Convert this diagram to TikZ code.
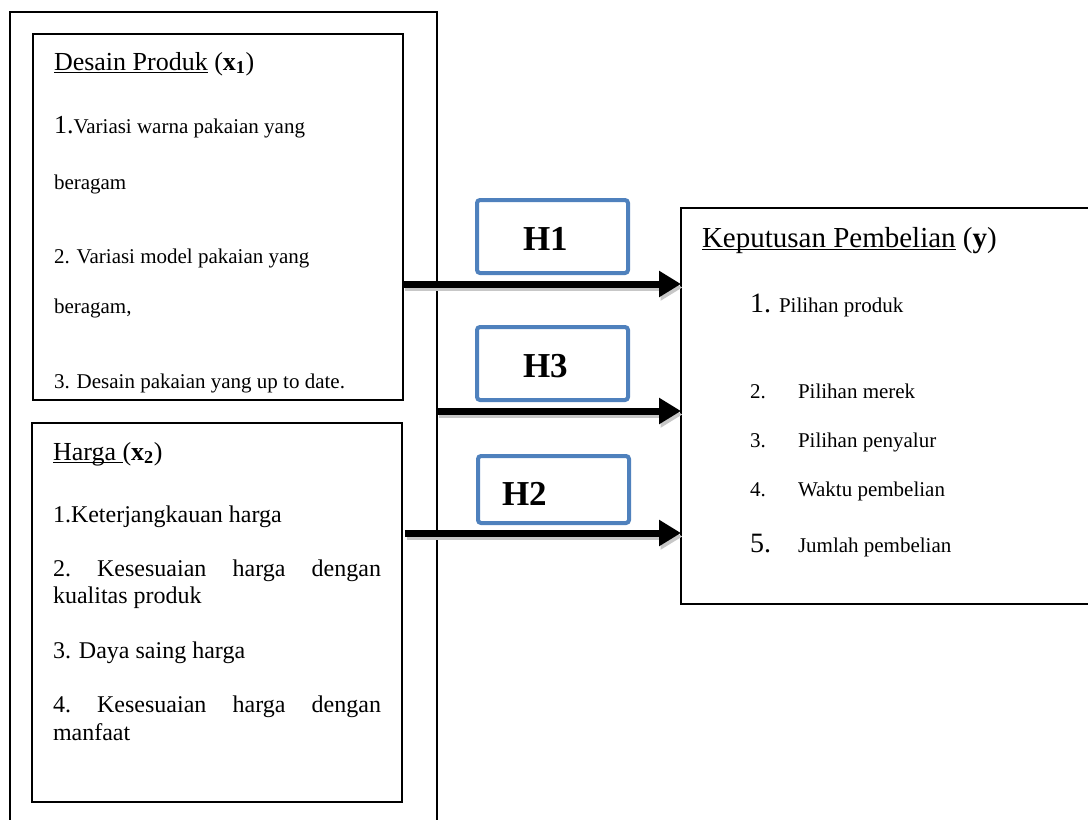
\documentclass[tikz,border=0pt]{standalone}
\usepackage{fontspec}
\setmainfont{Liberation Serif}
\usetikzlibrary{arrows.meta}
\definecolor{hblue}{HTML}{4F81BD}
\newcommand\myul[1]{\setbox0\hbox{#1}\rlap{\rule[-3pt]{\wd0}{1.5pt}}\box0\relax}
\begin{document}
\begin{tikzpicture}[x=1pt,y=-1pt,
  every node/.style={outer sep=0pt},
  outerbox/.style={draw, line width=1.3pt, anchor=north west, inner sep=0pt},
  innerbox/.style={draw, line width=2pt, anchor=north west, inner sep=0pt},
  ybox/.style={draw, line width=1.5pt, anchor=north west, inner sep=0pt},
  hbox/.style={draw=hblue, line width=4pt, rounded corners=3pt, anchor=north west, inner sep=0pt},
  arr/.style={line width=7pt, -{Triangle[length=22pt,width=25pt]}},
  shade/.style={line width=7pt, draw=black!22, -{Triangle[length=22pt,width=25pt]}},
  txt/.style={anchor=base west, inner sep=0pt},
  head/.style={txt, font=\fontsize{26}{30}\selectfont},
  yhead/.style={txt, font=\fontsize{29}{33}\selectfont},
  item/.style={txt, font=\fontsize{21}{25}\selectfont},
  itemb/.style={txt, font=\fontsize{24}{28}\selectfont},
  big/.style={txt, font=\fontsize{28}{32}\selectfont},
  hlabel/.style={txt, font=\fontsize{35}{40}\selectfont\bfseries},
]
\useasboundingbox (0,0) rectangle (1088,820);
\clip (0,0) rectangle (1088,820);

% boxes
\node[outerbox, minimum width=427pt, minimum height=840pt] (outer) at (10,12) {};
\node[innerbox, minimum width=370pt, minimum height=366pt] (x1) at (33,34) {};
\node[innerbox, minimum width=370pt, minimum height=379pt] (x2) at (32,423) {};
\node[ybox, minimum width=440pt, minimum height=396pt] (y) at (681,208) {};
\node[hbox, minimum width=151pt, minimum height=73pt] (h1) at (477,200) {};
\node[hbox, minimum width=151pt, minimum height=73pt] (h3) at (477,327) {};
\node[hbox, minimum width=151pt, minimum height=67pt] (h2) at (478,456) {};

% hypothesis labels
\node[hlabel] (h1t) at (523,250) {H1};
\node[hlabel] (h3t) at (523,377) {H3};
\node[hlabel] (h2t) at (502,505) {H2};

% coordinates for arrows
\coordinate (a1s) at (403,284);
\coordinate (a3s) at (437,411);
\coordinate (a2s) at (405,533);

% shadows
\draw[shade] ([shift={(1.5,3.5)}]a1s) -- ([shift={(1.5,3.5)}]y.west |- a1s);
\draw[shade] ([shift={(1.5,3.5)}]a3s) -- ([shift={(1.5,3.5)}]y.west |- a3s);
\draw[shade] ([shift={(1.5,3.5)}]a2s) -- ([shift={(1.5,3.5)}]y.west |- a2s);
% arrows
\draw[arr] (a1s) -- (y.west |- a1s);
\draw[arr] (a3s) -- (y.west |- a3s);
\draw[arr] (a2s) -- (y.west |- a2s);

% box x1 text
\begin{scope}
\clip (34,35) rectangle (402,392);
\node[head] (x1h) at (54,70) {\myul{Desain Produk} (\textbf{x\textsubscript{1}})};
\node[item] (x1a) at (54,133) {{\fontsize{26}{30}\selectfont 1.}Variasi warna pakaian yang};
\node[item] (x1b) at (54,189) {beragam};
\node[item] (x1c) at (54,263) {2. Variasi model pakaian yang};
\node[item] (x1d) at (54,313) {beragam,};
\node[item] (x1e) at (54,388) {3. Desain pakaian yang up to date.};
\end{scope}

% box x2 text
\node[head] (x2h) at (53,460) {\myul{Harga\ }(\textbf{x\textsubscript{2}})};
\node[itemb] (x2a) at (53,522) {1.Keterjangkauan harga};
\node[itemb] (x2b) at (53,576) {\hbox to 328pt{2.\hfill Kesesuaian\hfill harga\hfill dengan}};
\node[itemb] (x2c) at (53,603) {kualitas produk};
\node[itemb] (x2d) at (53,658) {3. Daya saing harga};
\node[itemb] (x2e) at (53,712) {\hbox to 328pt{4.\hfill Kesesuaian\hfill harga\hfill dengan}};
\node[itemb] (x2f) at (53,740) {manfaat};

% box y text
\node[yhead] (yh) at (702,247) {\myul{Keputusan Pembelian} (\textbf{y})};
\node[big] (y1n) at (750,312) {1.};
\node[item] (y1) at (779,312) {Pilihan produk};
\node[item] (y2n) at (750,398) {2.};
\node[item] (y2) at (798,398) {Pilihan merek};
\node[item] (y3n) at (750,447) {3.};
\node[item] (y3) at (798,447) {Pilihan penyalur};
\node[item] (y4n) at (750,496) {4.};
\node[item] (y4) at (798,496) {Waktu pembelian};
\node[big] (y5n) at (750,552) {5.};
\node[item] (y5) at (798,552) {Jumlah pembelian};
\end{tikzpicture}
\end{document}
